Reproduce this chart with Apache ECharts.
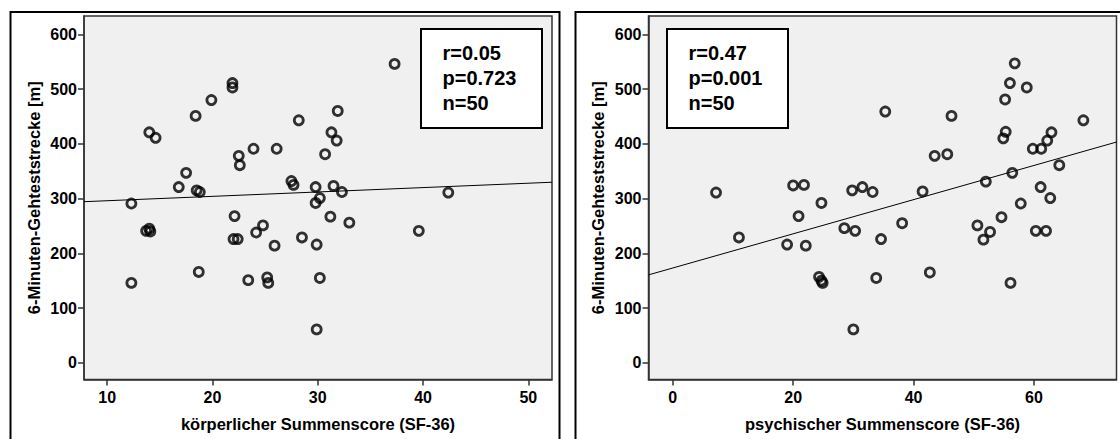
<!DOCTYPE html>
<html>
<head>
<meta charset="utf-8">
<script src="https://cdn.jsdelivr.net/npm/echarts@6/dist/echarts.min.js"></script>
<style>
  html, body { margin: 0; padding: 0; background: #fff; }
  #chart { width: 1120px; height: 439px; }
</style>
</head>
<body>
<div id="chart"></div>
<script>
// Physical component score (SF-36) vs. 6-minute walk distance
const physScore = [12.3, 12.3, 13.7, 14.0, 14.1, 14.0, 14.6, 16.8, 17.5, 18.4,
  18.5, 18.8, 18.7, 19.9, 21.9, 21.9, 22.1, 22.0, 22.4, 22.5,
  22.6, 23.4, 23.9, 24.15, 24.8, 25.2, 25.3, 25.9, 26.1, 27.5,
  27.7, 28.2, 28.5, 29.8, 29.8, 30.2, 29.9, 29.9, 30.2, 30.7,
  31.3, 31.8, 31.9, 31.5, 32.3, 31.2, 33.0, 37.3, 39.6, 42.4];
const physDist = [291, 146, 241, 245, 240, 421, 411, 321, 347, 451,
  315, 312, 166, 480, 511, 503, 268, 226, 226, 378,
  361, 151, 391, 238, 251, 156, 146, 214, 391, 332,
  325, 443, 229, 321, 292, 301, 216, 61, 155, 381,
  421, 406, 460, 323, 312, 267, 256, 546, 241, 311];

// Mental component score (SF-36) vs. 6-minute walk distance
const psychScore = [7.2, 11.0, 19.0, 20.0, 20.9, 21.8, 22.1, 24.3, 24.7, 24.9,
  24.7, 28.5, 29.8, 30.0, 30.3, 31.5, 33.2, 33.8, 34.6, 35.3,
  38.1, 41.5, 42.7, 43.5, 45.6, 46.3, 50.6, 51.6, 52.0, 52.7,
  54.6, 54.9, 55.2, 55.3, 56.0, 56.1, 56.4, 56.8, 57.8, 58.8,
  59.8, 60.3, 61.1, 61.2, 62.0, 62.2, 62.7, 62.9, 64.2, 68.2];
const psychDist = [311, 229, 216, 324, 268, 325, 214, 157, 150, 146,
  292, 246, 315, 61, 241, 321, 312, 155, 226, 459,
  255, 313, 165, 378, 381, 451, 251, 225, 331, 239,
  266, 410, 481, 422, 511, 146, 347, 547, 291, 503,
  391, 241, 321, 391, 241, 406, 301, 421, 361, 443];

// Tick labels and annotations
const yTicks = [0, 100, 200, 300, 400, 500, 600];
const physTicks = [10, 20, 30, 40, 50];
const psychTicks = [0, 20, 40, 60];
const physStats = ['r=0.05', 'p=0.723', 'n=50'];
const psychStats = ['r=0.47', 'p=0.001', 'n=50'];
const yTitle = '6-Minuten-Gehteststrecke [m]';
const physTitle = 'körperlicher Summenscore (SF-36)';
const psychTitle = 'psychischer Summenscore (SF-36)';

const FONT = '"Liberation Sans", Arial, Helvetica, sans-serif';

function pairs(xs, ys) { return xs.map((x, i) => [x, ys[i]]); }

// Ordinary least squares fit line across the axis range
function fitLine(xs, ys, x0, x1) {
  const n = xs.length;
  const mx = xs.reduce((a, b) => a + b, 0) / n;
  const my = ys.reduce((a, b) => a + b, 0) / n;
  let sxy = 0, sxx = 0;
  for (let i = 0; i < n; i++) {
    sxy += (xs[i] - mx) * (ys[i] - my);
    sxx += (xs[i] - mx) * (xs[i] - mx);
  }
  const b = sxy / sxx, a = my - b * mx;
  return [[x0, a + b * x0], [x1, a + b * x1]];
}

const physRange = [7.8, 52.25];
const psychRange = [-4.02, 73.7];
const yRange = [-30.5, 633.5];

const edgeStyle = { color: '#333', width: 1.5 };
const labelStyle = { color: '#000', fontWeight: 'bold', fontSize: 16, fontFamily: FONT };
const titleStyle = { color: '#000', fontWeight: 'bold', fontSize: 16.5, fontFamily: FONT };

function xAxis(gridIndex, range, ticks, name) {
  return {
    gridIndex, type: 'value', position: 'bottom', min: range[0], max: range[1],
    name, nameLocation: 'middle', nameGap: 36, nameTextStyle: titleStyle,
    axisLine: { show: true, onZero: false, lineStyle: edgeStyle },
    axisTick: { show: true, inside: false, length: 6, customValues: ticks, lineStyle: edgeStyle },
    axisLabel: { customValues: ticks, margin: 10, ...labelStyle },
    splitLine: { show: false }
  };
}
function yAxis(gridIndex) {
  return {
    gridIndex, type: 'value', position: 'left', min: yRange[0], max: yRange[1],
    name: yTitle, nameLocation: 'middle', nameGap: 42, nameTextStyle: titleStyle,
    axisLine: { show: true, onZero: false, lineStyle: edgeStyle },
    axisTick: { show: true, inside: false, length: 6, customValues: yTicks, lineStyle: edgeStyle },
    axisLabel: { customValues: yTicks, margin: 7, ...labelStyle },
    splitLine: { show: false }
  };
}

const markerStyle = { color: 'rgba(0,0,0,0)', borderColor: '#000', borderWidth: 2.8 };

function scatter(idx, xs, ys) {
  return {
    type: 'scatter', xAxisIndex: idx, yAxisIndex: idx,
    data: pairs(xs, ys), symbol: 'circle', symbolSize: 9,
    itemStyle: markerStyle, z: 3
  };
}
function fit(idx, xs, ys, range) {
  return {
    type: 'line', xAxisIndex: idx, yAxisIndex: idx,
    data: fitLine(xs, ys, range[0], range[1]),
    symbol: 'none', lineStyle: { color: '#000', width: 1 }, z: 2, silent: true
  };
}

function statsBox(left, lines) {
  return {
    type: 'group', left: left, top: 28, z: 10,
    children: [
      { type: 'rect', shape: { x: 0, y: 0, width: 121, height: 99 },
        style: { fill: '#fff', stroke: '#000', lineWidth: 2 } },
      { type: 'text', x: 21.5, y: 11,
        style: { text: lines.join('\n'), font: 'bold 20px ' + FONT, fill: '#000', lineHeight: 25 } }
    ]
  };
}

const chart = echarts.init(document.getElementById('chart'), null, { renderer: 'svg' });
chart.setOption({
  animation: false,
  backgroundColor: '#fff',
  grid: [
    { left: 84, top: 16, width: 468, height: 363.5, show: true,
      backgroundColor: '#f0f0f0', borderColor: '#333', borderWidth: 1.5 },
    { left: 648.5, top: 16, width: 468, height: 363.5, show: true,
      backgroundColor: '#f0f0f0', borderColor: '#333', borderWidth: 1.5 }
  ],
  xAxis: [
    xAxis(0, physRange, physTicks, physTitle),
    xAxis(1, psychRange, psychTicks, psychTitle)
  ],
  yAxis: [yAxis(0), yAxis(1)],
  series: [
    fit(0, physScore, physDist, physRange),
    scatter(0, physScore, physDist),
    fit(1, psychScore, psychDist, psychRange),
    scatter(1, psychScore, psychDist)
  ],
  graphic: [
    { type: 'rect', left: 8, top: 9.5, z: 0,
      shape: { width: 549, height: 445 },
      style: { fill: 'none', stroke: '#000', lineWidth: 2 } },
    { type: 'rect', left: 573, top: 9.5, z: 0,
      shape: { width: 560, height: 445 },
      style: { fill: 'none', stroke: '#000', lineWidth: 2 } },
    statsBox(420, physStats),
    statsBox(666, psychStats)
  ]
});
</script>
</body>
</html>
